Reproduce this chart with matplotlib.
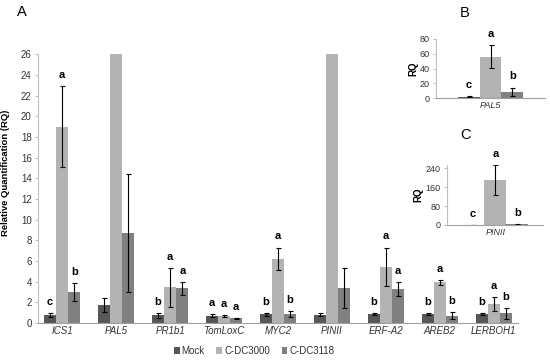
import numpy as np
import matplotlib
matplotlib.use("Agg")
import matplotlib.pyplot as plt

plt.rcParams['font.family'] = ['Liberation Sans', 'DejaVu Sans']

# #### Data

genes = ['ICS1', 'PAL5', 'PR1b1', 'TomLoxC', 'MYC2', 'PINII', 'ERF-A2', 'AREB2', 'LERBOH1']
series = ['Mock', 'C-DC3000', 'C-DC3118']

mock = [0.8, 1.75, 0.75, 0.7, 0.85, 0.8, 0.85, 0.9, 0.9]
mock_err = [0.2, 0.65, 0.25, 0.15, 0.15, 0.15, 0.1, 0.1, 0.1]
dc3000 = [19.0, 56.0, 3.45, 0.7, 6.2, 190.0, 5.45, 3.95, 1.85]
dc3000_err = [3.9, 15.5, 1.9, 0.07, 1.1, 62.0, 1.85, 0.25, 0.7]
dc3118 = [3.0, 8.7, 3.35, 0.45, 0.85, 3.4, 3.3, 0.7, 0.93]
dc3118_err = [0.85, 5.7, 0.6, 0.07, 0.3, 1.95, 0.65, 0.33, 0.5]

letters_mock = ['c', '', 'b', 'a', 'b', '', 'b', 'b', 'b']
letters_dc3000 = ['a', '', 'a', 'a', 'a', '', 'a', 'a', 'a']
letters_dc3118 = ['b', '', 'a', 'a', 'b', '', 'a', 'b', 'b']

letters_B = ['c', 'a', 'b']   # PAL5 full scale
letters_C = ['c', 'a', 'b']   # PINII full scale

colors = ['#575757', '#b3b3b3', '#808080']
tick_col = '#333333'


def style_axes(ax, fs=7):
    ax.spines['top'].set_visible(False)
    ax.spines['right'].set_visible(False)
    ax.spines['left'].set_color('#c0c0c0')
    ax.spines['bottom'].set_color('#a0a0a0')
    ax.tick_params(axis='y', length=2, width=0.6, color='#b0b0b0',
                   labelsize=fs, labelcolor=tick_col, pad=2.5)
    ax.tick_params(axis='x', length=0, labelsize=fs, labelcolor=tick_col, pad=2)
    for lab in ax.get_xticklabels():
        lab.set_style('italic')


def draw_group(ax, x, vals, errs, labs, width, fs=8):
    offs = [-width, 0, width]
    for k in range(3):
        ax.bar(x + offs[k], vals[k], width, color=colors[k], linewidth=0,
               label=series[k])
        ax.errorbar(x + offs[k], vals[k], yerr=errs[k], fmt='none',
                    ecolor='black', elinewidth=0.8, capsize=1.8, capthick=0.8)
        if labs[k]:
            ax.annotate(labs[k], (x + offs[k], vals[k] + errs[k]),
                        xytext=(0, 8), textcoords='offset points',
                        ha='center', va='center', fontsize=fs,
                        fontweight='bold', annotation_clip=False)


fig = plt.figure(figsize=(5.5, 3.61), dpi=100)

# #### Panel A

ax = fig.add_axes([0.069, 0.105, 0.873, 0.745])
w = 0.225
for i in range(len(genes)):
    draw_group(ax, i,
               [mock[i], dc3000[i], dc3118[i]],
               [mock_err[i], dc3000_err[i], dc3118_err[i]],
               [letters_mock[i], letters_dc3000[i], letters_dc3118[i]], w)
ax.set_xlim(-0.45, 8.45)
ax.set_ylim(0, 26)
ax.set_yticks(np.arange(0, 27, 2))
ax.set_xticks(range(len(genes)))
ax.set_xticklabels(genes)
style_axes(ax)
ax.set_ylabel('Relative Quantification (RQ)', fontsize=6.8, fontweight='bold',
              color='black')
ax.yaxis.set_label_coords(-0.058, 0.56)

handles, labels = ax.get_legend_handles_labels()
fig.legend(handles[:3], labels[:3], loc='center', bbox_to_anchor=(0.462, 0.028),
           ncol=3, frameon=False, fontsize=7, handlelength=0.6, handleheight=0.6,
           handletextpad=0.2, columnspacing=1.2, labelcolor=tick_col)

# #### Panel B (PAL5)

g = genes.index('PAL5')
axB = fig.add_axes([0.793, 0.728, 0.198, 0.164])
draw_group(axB, 0, [mock[g], dc3000[g], dc3118[g]],
           [mock_err[g], dc3000_err[g], dc3118_err[g]], letters_B, 0.2)
axB.set_xlim(-0.5, 0.5)
axB.set_ylim(0, 80)
axB.set_yticks([0, 20, 40, 60, 80])
axB.set_xticks([0])
axB.set_xticklabels([genes[g]])
style_axes(axB, fs=6.5)
axB.set_ylabel('RQ', fontsize=7, fontweight='bold', labelpad=1)

# #### Panel C (PINII)

g = genes.index('PINII')
axC = fig.add_axes([0.813, 0.377, 0.175, 0.1668])
draw_group(axC, 0, [mock[g], dc3000[g], dc3118[g]],
           [mock_err[g], dc3000_err[g], dc3118_err[g]], letters_C, 0.23)
axC.set_xlim(-0.5, 0.5)
axC.set_ylim(0, 255)
axC.set_yticks([0, 80, 160, 240])
axC.set_xticks([0])
axC.set_xticklabels([genes[g]])
style_axes(axC, fs=6.5)
axC.set_ylabel('RQ', fontsize=7, fontweight='bold', labelpad=2)

fig.text(0.031, 0.967, 'A', fontsize=10.5, ha='left', va='center')
fig.text(0.836, 0.964, 'B', fontsize=10.5, ha='left', va='center')
fig.text(0.836, 0.625, 'C', fontsize=10.5, ha='left', va='center')

fig.savefig('out.png', dpi=100)
